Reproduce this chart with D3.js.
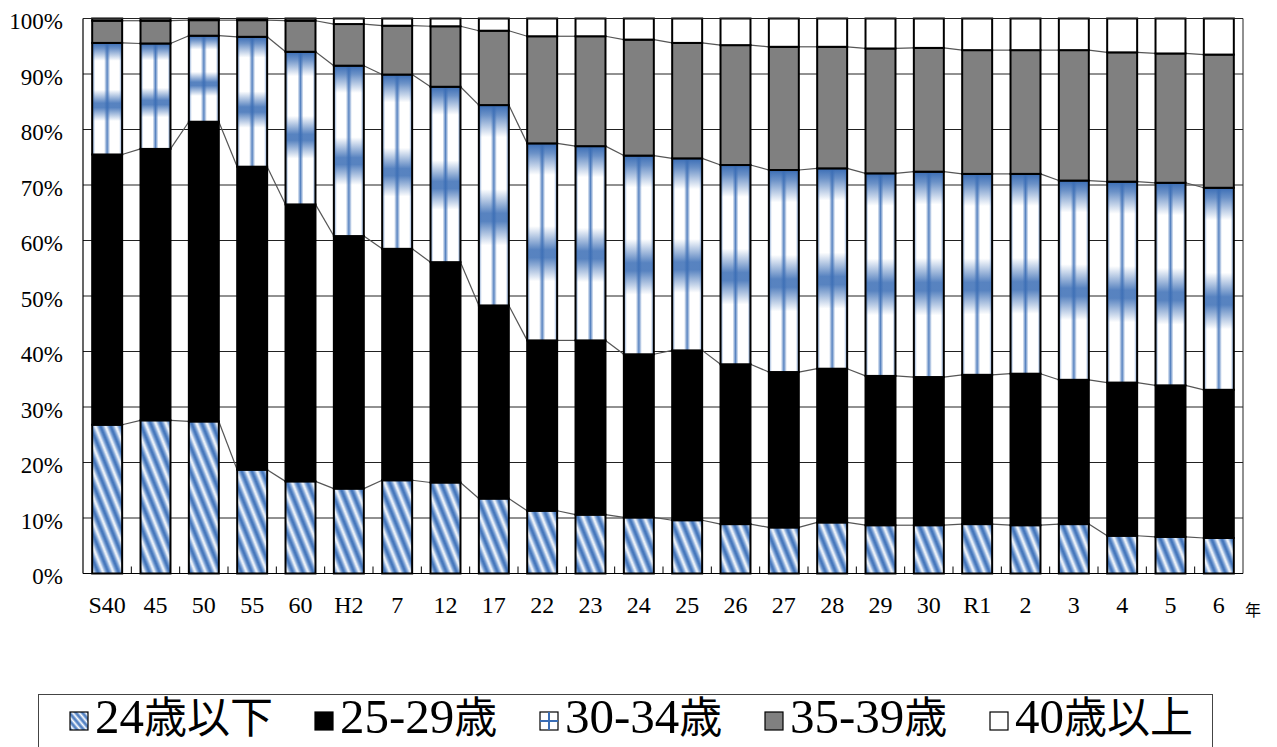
<!DOCTYPE html>
<html>
<head>
<meta charset="utf-8">
<script src="https://cdn.jsdelivr.net/npm/d3@7/dist/d3.min.js"></script>
<style>
  html, body { margin: 0; padding: 0; background: #fff; }
  svg { display: block; }
</style>
</head>
<body>
<svg id="chart" width="1277" height="747"></svg>
<script>
// ---------------- data ----------------
const categories = ["S40","45","50","55","60","H2","7","12","17","22","23","24","25","26","27","28","29","30","R1","2","3","4","5","6"];
const seriesNames = ["24歳以下","25-29歳","30-34歳","35-39歳","40歳以上"];
const age24under = [26.8,27.6,27.4,18.7,16.6,15.3,16.8,16.4,13.5,11.3,10.6,10.1,9.6,8.9,8.3,9.2,8.7,8.7,8.9,8.7,8.9,6.8,6.6,6.4];
const age25to29  = [48.7,48.9,54.0,54.6,49.9,45.5,41.7,39.7,34.8,30.7,31.4,29.4,30.6,28.8,28.0,27.7,26.9,26.7,26.9,27.3,26.0,27.6,27.3,26.7];
const age30to34  = [20.1,19.0,15.5,23.4,27.5,30.7,31.4,31.6,36.1,35.5,35.0,35.8,34.6,35.9,36.4,36.1,36.5,37.0,36.2,36.0,35.9,36.2,36.5,36.4];
const age35to39  = [4.0,4.1,2.8,3.0,5.6,7.5,8.8,10.9,13.4,19.3,19.8,20.9,20.8,21.6,22.2,21.9,22.5,22.3,22.3,22.3,23.5,23.3,23.3,24.0];
const age40over  = [0.4,0.4,0.3,0.3,0.4,1.0,1.3,1.4,2.2,3.2,3.2,3.8,4.4,4.8,5.1,5.1,5.4,5.3,5.7,5.7,5.7,6.1,6.3,6.5];
const yTicks = [0,10,20,30,40,50,60,70,80,90,100];
const xUnitLabel = "年";

// ---------------- setup ----------------
const svg = d3.select("#chart");
const plot = { left: 83, right: 1243, top: 18.5, bottom: 573.5 };
const serifFont = "'Liberation Serif', 'Times New Roman', serif";
const cjkFont = "'Noto Sans CJK JP', sans-serif";
const BLUE = "#3a6db5";

const rows = categories.map((c, i) => ({
  cat: c,
  [seriesNames[0]]: age24under[i],
  [seriesNames[1]]: age25to29[i],
  [seriesNames[2]]: age30to34[i],
  [seriesNames[3]]: age35to39[i],
  [seriesNames[4]]: age40over[i]
}));
const stacked = d3.stack().keys(seriesNames)(rows);

const x = d3.scaleBand().domain(categories).range([plot.left, plot.right])
  .paddingInner(0.38).paddingOuter(0.19);
const y = d3.scaleLinear().domain([0, 100]).range([plot.bottom, plot.top]);
const bw = x.bandwidth();
const gapHalf = (x.step() - bw) / 2;

// ---------------- defs (patterns/gradients) ----------------
const defs = svg.append("defs");
const stripeGrad = defs.append("linearGradient").attr("id", "stripeGrad")
  .attr("x1", "0").attr("x2", "1").attr("y1", "0").attr("y2", "0");
[[0, BLUE], [0.2, "#6f98d0"], [0.5, "#ffffff"], [0.8, "#6f98d0"], [1, BLUE]]
  .forEach(([o, c]) => stripeGrad.append("stop").attr("offset", o).attr("stop-color", c));
const pat = defs.append("pattern").attr("id", "diag")
  .attr("patternUnits", "userSpaceOnUse").attr("width", 9.5).attr("height", 40)
  .attr("patternTransform", "rotate(-22)");
pat.append("rect").attr("width", 9.5).attr("height", 40).attr("fill", "url(#stripeGrad)");

const legendPat = defs.append("pattern").attr("id", "diagSmall")
  .attr("patternUnits", "userSpaceOnUse").attr("width", 5).attr("height", 40)
  .attr("patternTransform", "rotate(-40)");
legendPat.append("rect").attr("width", 5).attr("height", 40).attr("fill", "url(#stripeGrad)");

const vGrad = defs.append("linearGradient").attr("id", "bandV")
  .attr("x1", "0").attr("x2", "0").attr("y1", "0").attr("y2", "1");
[[0, 1], [0.05, 0.75], [0.16, 0], [0.42, 0], [0.54, 0.85], [0.58, 0.85], [0.7, 0], [1, 0]]
  .forEach(([o, a]) => vGrad.append("stop").attr("offset", o).attr("stop-color", BLUE).attr("stop-opacity", a));
const hGrad = defs.append("linearGradient").attr("id", "bandH")
  .attr("x1", "0").attr("x2", "1").attr("y1", "0").attr("y2", "0");
[[0, 0.7], [0.1, 0], [0.4, 0], [0.5, 0.85], [0.6, 0], [0.9, 0], [1, 0.7]]
  .forEach(([o, a]) => hGrad.append("stop").attr("offset", o).attr("stop-color", BLUE).attr("stop-opacity", a));

// ---------------- gridlines ----------------
svg.append("g").selectAll("line").data(yTicks).join("line")
  .attr("x1", plot.left).attr("x2", plot.right)
  .attr("y1", d => y(d)).attr("y2", d => y(d))
  .attr("stroke", "#222").attr("stroke-width", 1);

svg.append("line").attr("x1", plot.left).attr("x2", plot.left).attr("y1", plot.top).attr("y2", plot.bottom)
  .attr("stroke", "#000").attr("stroke-width", 1.2);
svg.append("line").attr("x1", plot.right).attr("x2", plot.right).attr("y1", plot.top).attr("y2", plot.bottom)
  .attr("stroke", "#222").attr("stroke-width", 1);

// ---------------- series lines ----------------
const seriesLineG = svg.append("g");
stacked.slice(0, 4).forEach(s => {
  for (let i = 0; i < categories.length - 1; i++) {
    seriesLineG.append("line")
      .attr("x1", x(categories[i]) + bw).attr("y1", y(s[i][1]))
      .attr("x2", x(categories[i + 1])).attr("y2", y(s[i + 1][1]))
      .attr("stroke", "#555").attr("stroke-width", 1.2);
  }
});

// ---------------- bars ----------------
const fills = ["url(#diag)", "#000000", "#ffffff", "#808080", "#ffffff"];
stacked.forEach((s, k) => {
  const g = svg.append("g");
  g.selectAll("rect.base").data(s).join("rect").attr("class", "base")
    .attr("x", (d, i) => x(categories[i])).attr("width", bw)
    .attr("y", d => y(d[1])).attr("height", d => y(d[0]) - y(d[1]))
    .attr("fill", fills[k]);
  if (k === 2) {
    g.selectAll("rect.bv").data(s).join("rect").attr("class", "bv")
      .attr("x", (d, i) => x(categories[i])).attr("width", bw)
      .attr("y", d => y(d[1])).attr("height", d => y(d[0]) - y(d[1]))
      .attr("fill", "url(#bandV)");
    g.selectAll("rect.bh").data(s).join("rect").attr("class", "bh")
      .attr("x", (d, i) => x(categories[i])).attr("width", bw)
      .attr("y", d => y(d[1])).attr("height", d => y(d[0]) - y(d[1]))
      .attr("fill", "url(#bandH)");
  }
  g.selectAll("rect.outline").data(s).join("rect").attr("class", "outline")
    .attr("x", (d, i) => x(categories[i])).attr("width", bw)
    .attr("y", d => y(d[1])).attr("height", d => y(d[0]) - y(d[1]))
    .attr("fill", "none").attr("stroke", "#000").attr("stroke-width", 2);
});

svg.append("line").attr("x1", plot.left).attr("x2", plot.right).attr("y1", plot.top).attr("y2", plot.top)
  .attr("stroke", "#222").attr("stroke-width", 1);

// ---------------- axes ----------------
const yAxis = svg.append("g").attr("transform", `translate(${plot.left},0)`)
  .call(d3.axisLeft(y).tickValues(yTicks).tickFormat(d => d + "%").tickSize(0).tickPadding(20));
yAxis.select(".domain").remove();
yAxis.selectAll("text").attr("font-family", serifFont).attr("font-size", 23)
  .attr("fill", "#000").attr("dy", "0.45em");

const xAxis = svg.append("g").attr("transform", `translate(0,${plot.bottom})`)
  .call(d3.axisBottom(x).tickSize(0).tickPadding(22));
xAxis.select(".domain").remove();
xAxis.selectAll("text").attr("font-family", serifFont).attr("font-size", 24).attr("fill", "#000");

svg.append("line").attr("x1", plot.left).attr("x2", plot.right).attr("y1", plot.bottom).attr("y2", plot.bottom)
  .attr("stroke", "#000").attr("stroke-width", 1.2);
svg.append("g").selectAll("line").data(categories.slice(1)).join("line")
  .attr("x1", d => x(d) - gapHalf).attr("x2", d => x(d) - gapHalf)
  .attr("y1", plot.bottom).attr("y2", plot.bottom - 7)
  .attr("stroke", "#000").attr("stroke-width", 1);

svg.append("text").attr("x", 1253).attr("y", 616).attr("text-anchor", "middle")
  .attr("font-family", cjkFont).attr("font-size", 16).attr("fill", "#000")
  .text(xUnitLabel);

// ---------------- legend ----------------
const legend = svg.append("g");
legend.append("rect").attr("x", 38.5).attr("y", 694.5).attr("width", 1174).attr("height", 80)
  .attr("fill", "#fff").attr("stroke", "#444").attr("stroke-width", 1);
const legendX = [70, 315, 540, 765, 990];
const legendFill = ["url(#diagSmall)", "#000", "#fff", "#808080", "#fff"];
seriesNames.forEach((name, k) => {
  const gx = legendX[k];
  legend.append("rect").attr("x", gx).attr("y", 712).attr("width", 18).attr("height", 18)
    .attr("fill", legendFill[k]).attr("stroke", "#000").attr("stroke-width", 1.2);
  if (k === 2) {
    legend.append("line").attr("x1", gx + 9).attr("x2", gx + 9).attr("y1", 712).attr("y2", 730)
      .attr("stroke", BLUE).attr("stroke-width", 2);
    legend.append("line").attr("x1", gx).attr("x2", gx + 18).attr("y1", 721).attr("y2", 721)
      .attr("stroke", BLUE).attr("stroke-width", 2);
  }
  const t = legend.append("text").attr("x", gx + 25).attr("y", 733)
    .attr("font-size", 46).attr("fill", "#000");
  const runs = name.match(/[\x00-\x7F]+|[^\x00-\x7F]+/g);
  runs.forEach(r => {
    const ascii = /^[\x00-\x7F]+$/.test(r);
    t.append("tspan").attr("font-family", ascii ? serifFont : cjkFont)
      .attr("font-size", ascii ? 49 : 43).text(r);
  });
});
</script>
</body>
</html>
